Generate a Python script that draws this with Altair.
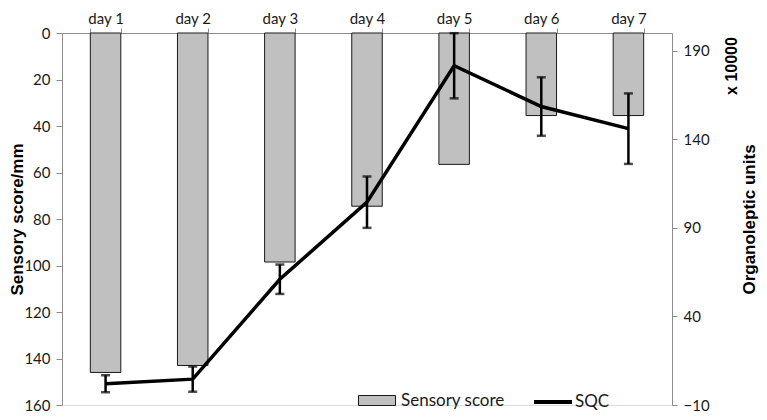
import altair as alt
import pandas as pd

# ---- data ----
days = ["day 1", "day 2", "day 3", "day 4", "day 5", "day 6", "day 7"]
sensory_score = [146, 143, 98.5, 74.5, 56.5, 35.5, 35.5]
sqc = [2, 4.6, 61, 104.5, 181.5, 158.5, 146]
sqc_err = [4.8, 7.1, 8.3, 14.5, 18.4, 16.5, 19.9]
left_ticks = [0, 20, 40, 60, 80, 100, 120, 140, 160]
right_ticks = [-10, 40, 90, 140, 190]

df = pd.DataFrame({"day": days, "sensory": sensory_score, "sqc": sqc, "err": sqc_err})
df["lo"] = df["sqc"] - df["err"]
df["hi"] = df["sqc"] + df["err"]
df["bar_series"] = "Sensory score"
df["line_series"] = "SQC"

W, H = 610, 372
TOP = 25
LEG_Y = 400  # page y of legend symbol centres
LABEL_FONT = "Lato"
TITLE_FONT = "Liberation Sans"
GREY = "#8c8c8c"
TXT = "#1a1a1a"

x_axis = alt.Axis(orient="top", labelAngle=0, tickBand="extent", domainColor=GREY,
                  tickColor=GREY, tickSize=5, labelPadding=2, labelFont=LABEL_FONT,
                  labelFontSize=15, labelColor=TXT, grid=False, title=None)
x_scale = alt.Scale(paddingInner=0.65, paddingOuter=0.325)


def xe():
    return alt.X("day:N", sort=days, title=None, scale=x_scale, axis=x_axis)


bars = alt.Chart(df).mark_bar(stroke=TXT, strokeWidth=1).encode(
    x=xe(),
    y=alt.Y("sensory:Q",
            scale=alt.Scale(domain=[0, 160], reverse=True, nice=False, zero=True),
            axis=alt.Axis(orient="left", values=left_ticks, title="Sensory score/mm",
                          domainColor=GREY, tickColor=GREY, tickSize=6, labelPadding=6,
                          labelFont=LABEL_FONT, labelFontSize=15, labelColor=TXT, grid=False,
                          titleFont=TITLE_FONT, titleFontSize=17, titleFontWeight="bold",
                          titleColor="black", titleAngle=270, titleX=-45, titleY=H / 2,
                          titleAlign="center", titleBaseline="middle")),
    fill=alt.Fill("bar_series:N", scale=alt.Scale(range=["#c0c0c0"]),
                  legend=alt.Legend(title=None, orient="none", legendX=296,
                                    legendY=LEG_Y - 8 - TOP - 18.5,
                                    symbolType="M-1,-0.27H1V0.27H-1Z", symbolSize=1369,
                                    symbolStrokeColor=TXT, symbolStrokeWidth=1,
                                    symbolFillColor="#c0c0c0", labelFont=LABEL_FONT,
                                    labelFontSize=17, labelColor=TXT, labelOffset=5,
                                    padding=0)),
)

yR = alt.Scale(domain=[-10, 200], nice=False, zero=False)
yR_axis = alt.Axis(orient="right", values=right_ticks, title="Organoleptic units",
                   domainColor=GREY, tickColor=GREY, tickSize=5, labelPadding=6,
                   labelFont=LABEL_FONT, labelFontSize=15, labelColor=TXT, grid=False,
                   titleFont=TITLE_FONT, titleFontSize=17, titleFontWeight="bold",
                   titleColor="black", titleAngle=270, titleX=77, titleY=H / 2,
                   titleAlign="center", titleBaseline="middle")


def ye(field):
    return alt.Y(field, scale=yR, axis=yR_axis, title="Organoleptic units")


line = alt.Chart(df).mark_line(strokeWidth=3.5, color="black").encode(
    x=xe(),
    y=ye("sqc:Q"),
    stroke=alt.Stroke("line_series:N", scale=alt.Scale(range=["black"]),
                      legend=alt.Legend(title=None, orient="none", legendX=470,
                                        legendY=LEG_Y - 8 - TOP - 19,
                                        symbolType="stroke", symbolSize=1444,
                                        symbolStrokeWidth=4, labelFont=LABEL_FONT,
                                        labelFontSize=17, labelColor=TXT, labelOffset=1,
                                        padding=0)),
)

rules = alt.Chart(df).mark_rule(strokeWidth=2.5, color="black").encode(
    x=xe(), y=ye("lo:Q"), y2="hi:Q")
cap_lo = alt.Chart(df).mark_tick(thickness=2.5, size=9, color="black").encode(
    x=xe(), y=ye("lo:Q"))
cap_hi = alt.Chart(df).mark_tick(thickness=2.5, size=9, color="black").encode(
    x=xe(), y=ye("hi:Q"))

right = alt.layer(line, rules, cap_lo, cap_hi)

note = alt.Chart(pd.DataFrame({"t": ["x 10000"]})).mark_text(
    angle=270, font=TITLE_FONT, fontSize=16, fontWeight="bold", color="black",
    align="center", baseline="middle",
).encode(text="t:N", x=alt.value(670), y=alt.value(66 - 8 - TOP))

chart = alt.layer(bars, right, note).resolve_scale(
    y="independent", fill="independent", stroke="independent"
).properties(
    width=W, height=H,
    autosize=alt.AutoSizeParams(type="none"),
    padding={"left": 54, "top": TOP, "right": 87, "bottom": 404 - TOP - H},
).configure_view(stroke=None).configure(background="white")

chart.save("out.html", embed_options={"renderer": "svg", "actions": False})
